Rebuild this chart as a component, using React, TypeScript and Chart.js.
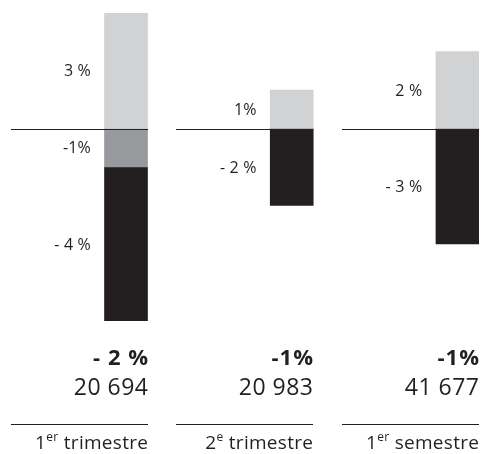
import React, { useEffect, useRef } from "react";
import { Chart, registerables } from "chart.js";

Chart.register(...registerables);

const positions = [0, 1, 2];
const increase = [3, 1, 2];
const decreaseMid = [-1, null, null];
const decrease = [-4, -2, -3];

const increaseLabels = ["3 %", "1%", "2 %"];
const midLabels = ["-1%", "", ""];
const decreaseLabels = ["- 4 %", "- 2 %", "- 3 %"];

const totals = ["- 2 %", "-1%", "-1%"];
const volumes = ["20 694", "20 983", "41 677"];
const catNumbers = ["1", "2", "1"];
const catSups = ["er", "e", "er"];
const catWords = ["trimestre", "trimestre", "semestre"];

const INK = "#231f20";
const FONT = "'Open Sans', Lato, sans-serif";

function spaced(ctx: any, px: number) {
  if ("letterSpacing" in ctx) ctx.letterSpacing = px + "px";
}

const overlay = {
  id: "overlay",
  afterDatasetsDraw(chart: any) {
    const ctx = chart.ctx as CanvasRenderingContext2D;
    const y = chart.scales.y;
    const zeroY = Math.round(y.getPixelForValue(0)) + 0.5;
    const labelSets = [increaseLabels, midLabels, decreaseLabels];
    ctx.save();
    // segment labels
    ctx.fillStyle = INK;
    ctx.font = `400 16px ${FONT}`;
    spaced(ctx, 0.2);
    ctx.textAlign = "right";
    ctx.textBaseline = "middle";
    labelSets.forEach((labels, di) => {
      const meta = chart.getDatasetMeta(di);
      meta.data.forEach((el: any, j: number) => {
        const parsed = meta._parsed ? meta._parsed[j] : null;
        const idx = parsed ? positions.indexOf(parsed.x) : j;
        const txt = labels[idx];
        if (!txt) return;
        const { x, y: top, base, width } = el.getProps(["x", "y", "base", "width"], true);
        ctx.fillText(txt, x - width / 2 - 13.5, (top + base) / 2 + 1);
      });
    });
    spaced(ctx, 0);
    // group zero lines + bottom texts
    const meta0 = chart.getDatasetMeta(0);
    meta0.data.forEach((el: any, j: number) => {
      const { x, width } = el.getProps(["x", "width"], true);
      const right = Math.round(x + width / 2);
      const left = right - 137;
      ctx.strokeStyle = INK;
      ctx.lineWidth = 1;
      ctx.beginPath();
      ctx.moveTo(left, zeroY);
      ctx.lineTo(right, zeroY);
      ctx.stroke();
      // bottom rule
      ctx.beginPath();
      ctx.moveTo(left, 424.5);
      ctx.lineTo(right, 424.5);
      ctx.stroke();

      ctx.textBaseline = "alphabetic";
      ctx.textAlign = "right";
      ctx.fillStyle = INK;
      ctx.font = `bold 22px ${FONT}`;
      spaced(ctx, 1);
      ctx.fillText(totals[j], right + 1, 365);
      ctx.font = `400 23px ${FONT}`;
      spaced(ctx, 0.5);
      ctx.fillText(volumes[j], right + 0.5, 395);
      spaced(ctx, 0.3);

      // category label with superscript
      const mainFont = `400 19px ${FONT}`;
      const supFont = `400 12px ${FONT}`;
      ctx.font = mainFont;
      const wNum = ctx.measureText(catNumbers[j]).width;
      const wWord = ctx.measureText(" " + catWords[j]).width;
      ctx.font = supFont;
      const wSup = ctx.measureText(catSups[j]).width;
      let cx = right + 0.3 - (wNum + wSup + wWord);
      ctx.textAlign = "left";
      ctx.font = mainFont;
      ctx.fillText(catNumbers[j], cx, 449);
      cx += wNum;
      ctx.font = supFont;
      ctx.fillText(catSups[j], cx, 441);
      cx += wSup;
      ctx.font = mainFont;
      ctx.fillText(" " + catWords[j], cx, 449);
      spaced(ctx, 0);
    });
    ctx.restore();
  },
};

export default function App() {
  const ref = useRef<HTMLCanvasElement | null>(null);
  useEffect(() => {
    if (!ref.current) return;
    const toPts = (arr: (number | null)[]) =>
      arr
        .map((v, i) => ({ x: positions[i], y: v }))
        .filter((p) => p.y !== null);
    const chart = new Chart(ref.current, {
      type: "bar",
      data: {
        datasets: [
          { label: "hausse", data: toPts(increase) as any, backgroundColor: "#d1d2d4", barThickness: 43 },
          { label: "baisse intermédiaire", data: toPts(decreaseMid) as any, backgroundColor: "#98999c", barThickness: 43 },
          { label: "baisse", data: toPts(decrease) as any, backgroundColor: INK, barThickness: 43 },
        ],
      },
      options: {
        animation: false,
        responsive: false,
        maintainAspectRatio: false,
        layout: { padding: { left: 10, right: 3, top: 13, bottom: 133 } },
        plugins: { legend: { display: false }, tooltip: { enabled: false } },
        scales: {
          x: { type: "linear", min: -0.7, max: 2.13, offset: false, stacked: true, display: false },
          y: { min: -5, max: 3, stacked: true, display: false },
        },
      },
      plugins: [overlay],
    });
    return () => chart.destroy();
  }, []);
  return (
    <div style={{ position: "fixed", left: 0, top: 0, width: 482, height: 454, background: "#fff" }}>
      <canvas ref={ref} width={482} height={454} style={{ width: 482, height: 454, display: "block" }} />
    </div>
  );
}
